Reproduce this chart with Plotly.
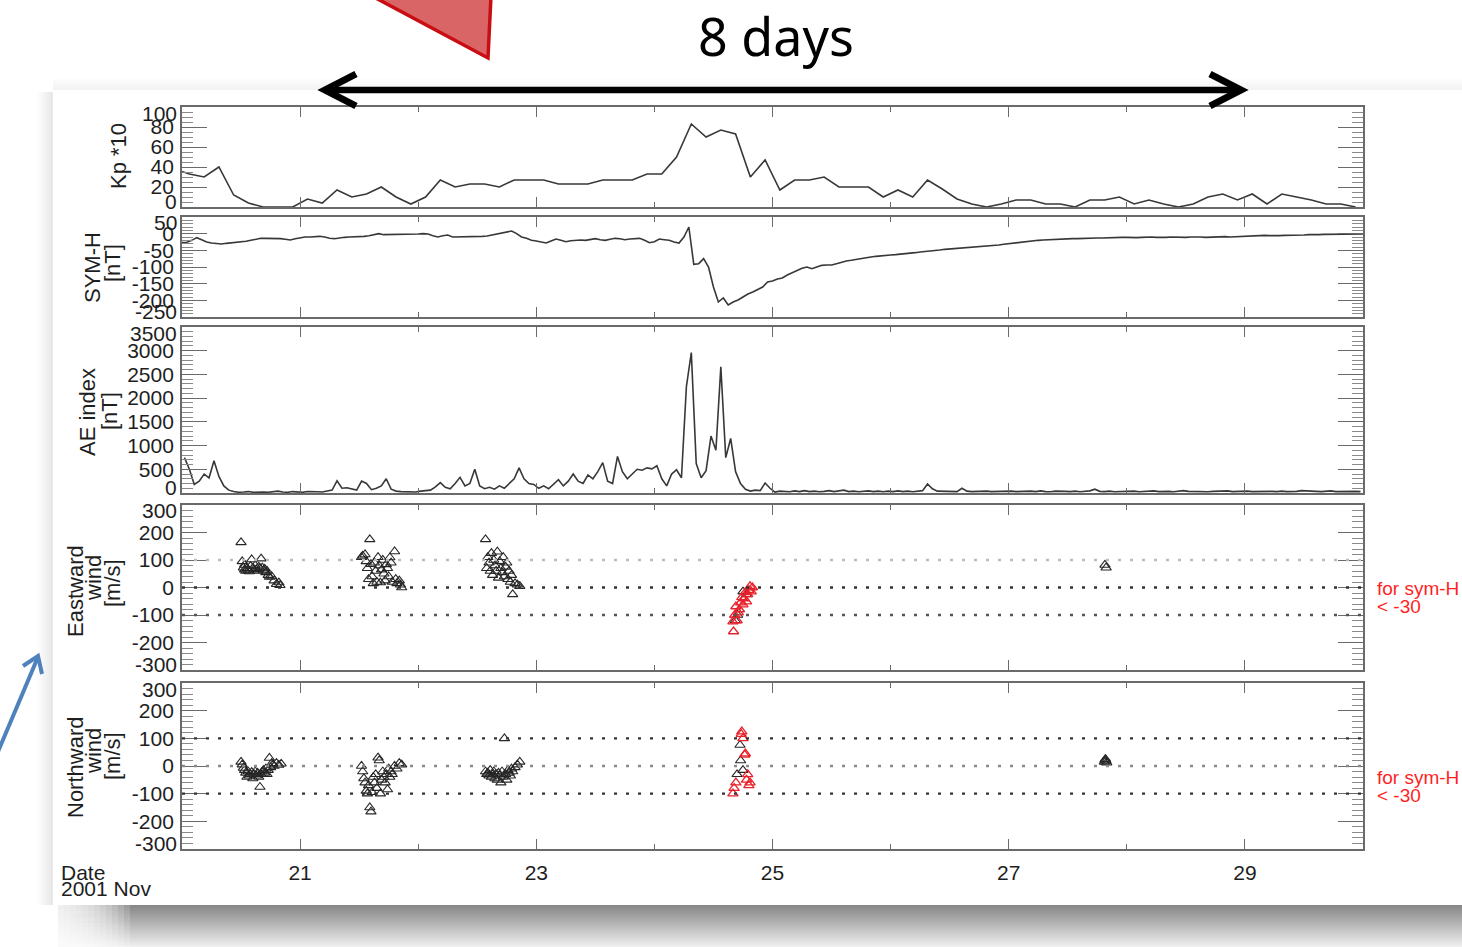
import numpy as np
import plotly.graph_objects as go

W, H = 1462, 947

# ---------------------------------------------------------------- data
# Kp*10, 3-hour intervals (first value belongs to the interval before Nov 20)
kp10 = [38, 33, 30, 40, 12, 4, 0, 0, 0, 8,
        4, 17, 10, 13, 20, 10, 3, 10, 27, 20,
        23, 23, 20, 27, 27, 27, 23, 23, 23, 27,
        27, 27, 33, 33, 50, 83, 70, 77, 73, 30,
        47, 17, 27, 27, 30, 20, 20, 20, 10, 17,
        10, 27, 18, 8, 3, 0, 3, 7, 7, 3,
        3, 0, 7, 7, 10, 3, 7, 3, 0, 3,
        10, 13, 7, 13, 3, 13, 10, 7, 3, 3,
        0]
kp_times = 20 + (np.arange(len(kp10)) - 0.5) / 8

# SYM-H [nT], hourly values from Nov 20 00 UT
symh_d20 = [-27, -26, -20, -12, -18, -25, -28, -30, -31, -29, -28, -26, -24, -23, -20, -16, -14, -14, -14, -14, -15, -17, -19, -15]
symh_d21 = [-12, -10, -10, -9, -8, -10, -14, -15, -12, -11, -10, -10, -9, -8, -6, -3, 0, -3, -3, -2, -1, -1, -1, -1]
symh_d22 = [-1, 0, -1, -6, -10, -6, -4, -10, -10, -10, -10, -10, -9, -8, -7, -4, -1, 2, 5, 8, 0, -10, -14, -20]
symh_d23 = [-22, -25, -28, -22, -16, -20, -24, -21, -19, -19, -20, -17, -15, -18, -20, -17, -14, -15, -18, -16, -14, -14, -20, -27]
symh_d24 = [-24, -16, -18, -20, -25, -28, -10, 20, -92, -90, -75, -100, -160, -205, -193, -214, -205, -199, -190, -181, -175, -168, -160, -145]
symh_d25 = [-142, -136, -133, -124, -117, -110, -104, -100, -105, -100, -95, -94, -94, -90, -85, -82, -80, -77, -74, -72, -70, -68, -66, -65]
symh_d26 = [-64, -63, -62, -61, -59, -57, -55, -54, -52, -50, -49, -47, -46, -45, -44, -43, -41, -40, -39, -38, -36, -35, -34, -32]
symh_d27 = [-30, -28, -26, -24, -22, -21, -20, -19, -18, -18, -17, -16, -16, -15, -15, -14, -14, -14, -13, -13, -12, -12, -12, -11]
symh_d28 = [-11, -12, -12, -11, -10, -10, -11, -12, -11, -10, -11, -12, -11, -10, -9, -10, -11, -10, -9, -8, -9, -10, -9, -8]
symh_d29 = [-8, -7, -6, -6, -5, -6, -7, -6, -5, -5, -6, -5, -4, -3, -4, -3, -2, -2, -1, 0, 0, -1, -1, 0, -1]
symh = (symh_d20 + symh_d21 + symh_d22 + symh_d23 + symh_d24 +
        symh_d25 + symh_d26 + symh_d27 + symh_d28 + symh_d29)
symh_times = 20 + np.arange(len(symh)) / 24

# AE index [nT], hourly means
ae_d20 = [745, 500, 180, 250, 400, 320, 680, 350, 150, 60, 30, 15, 20, 30, 15, 25, 20, 15, 25, 40, 20, 15, 30, 20]
ae_d21 = [15, 30, 20, 25, 20, 40, 60, 255, 100, 110, 80, 60, 250, 200, 70, 100, 150, 300, 80, 40, 30, 25, 30, 20]
ae_d22 = [40, 50, 60, 130, 220, 120, 90, 200, 330, 150, 200, 500, 150, 90, 120, 80, 150, 100, 200, 300, 530, 300, 200, 180]
ae_d23 = [100, 150, 90, 180, 280, 150, 250, 400, 250, 200, 380, 300, 450, 640, 250, 200, 770, 450, 300, 400, 500, 480, 530, 510]
ae_d24 = [575, 300, 150, 400, 490, 320, 2240, 2960, 620, 320, 470, 1200, 900, 2660, 745, 1150, 450, 200, 80, 40, 60, 50, 210, 100]
ae_d25 = [20, 40, 30, 25, 45, 30, 50, 30, 40, 25, 35, 50, 30, 40, 60, 30, 40, 25, 30, 45, 30, 40, 25, 40]
ae_d26 = [30, 45, 30, 40, 25, 35, 50, 190, 90, 40, 35, 30, 40, 30, 100, 40, 30, 35, 25, 40, 30, 35, 30, 40]
ae_d27 = [40, 30, 35, 25, 40, 30, 45, 30, 25, 40, 30, 35, 30, 40, 25, 30, 45, 80, 35, 30, 40, 25, 30, 35]
ae_d28 = [30, 40, 25, 35, 30, 45, 30, 40, 35, 25, 30, 50, 35, 30, 40, 30, 25, 35, 40, 30, 45, 30, 35, 30]
ae_d29 = [40, 30, 35, 30, 45, 35, 30, 40, 30, 25, 35, 50, 40, 30, 35, 30, 40, 45, 30, 35, 30, 40, 35, 30]
ae = ae_d20 + ae_d21 + ae_d22 + ae_d23 + ae_d24 + ae_d25 + ae_d26 + ae_d27 + ae_d28 + ae_d29
ae_times = 20 + (np.arange(len(ae)) + 0.5) / 24

# Eastward wind [m/s]
east_c1_days = [20.50, 20.51, 20.52, 20.53, 20.53, 20.54, 20.55, 20.56, 20.57, 20.58, 20.59, 20.60, 20.61, 20.62, 20.63, 20.64,
                20.65, 20.66, 20.67, 20.68, 20.69, 20.70, 20.71, 20.72, 20.73, 20.74, 20.76, 20.78, 20.80, 20.82, 20.83]
east_c1_vals = [164, 95, 72, 65, 82, 60, 70, 62, 58, 78, 102, 70, 65, 80, 66, 60,
                75, 70, 105, 72, 62, 68, 55, 60, 45, 38, 40, 25, 12, 18, 8]
east_c2_days = [21.52, 21.53, 21.55, 21.56, 21.57, 21.58, 21.59, 21.60, 21.61, 21.62, 21.63, 21.64, 21.65, 21.66, 21.67, 21.68,
                21.69, 21.70, 21.71, 21.72, 21.73, 21.74, 21.75, 21.76, 21.77, 21.78, 21.80, 21.81, 21.82, 21.84, 21.85, 21.86]
east_c2_vals = [110, 115, 120, 95, 70, 30, 175, 85, 40, 15, 90, 60, 20, 110, 80, 18,
                65, 100, 50, 25, 84, 70, 40, 109, 90, 20, 131, 30, 15, 25, 10, 0]
east_c3_days = [22.57, 22.58, 22.59, 22.60, 22.61, 22.62, 22.63, 22.64, 22.65, 22.66, 22.67, 22.68, 22.69, 22.70,
                22.71, 22.72, 22.73, 22.74, 22.75, 22.76, 22.77, 22.78, 22.79, 22.80, 22.82, 22.84, 22.86]
east_c3_vals = [175, 70, 110, 90, 60, 125, 45, 100, 80, 60, 130, 35, 95, 70,
                55, 110, 40, 75, 90, 30, 60, 20, 45, -25, 15, 10, 5]
east_c4_days = [24.685, 24.705, 24.75, 24.78]
east_c4_vals = [-120, -100, -15, -25]
east_c5_days = [27.815, 27.825]
east_c5_vals = [82, 72]
east_red_days = [24.665, 24.67, 24.68, 24.69, 24.70, 24.71, 24.72, 24.73, 24.74, 24.75, 24.76, 24.77, 24.78, 24.79, 24.80, 24.81, 24.82, 24.83]
east_red_vals = [-124, -160, -100, -69, -120, -91, -80, -55, -36, -62, -40, -18, -51, -25, -10, 4, -15, 0]

# Northward wind [m/s]
north_c1_days = [20.50, 20.51, 20.52, 20.53, 20.54, 20.55, 20.56, 20.57, 20.58, 20.59, 20.60, 20.61, 20.62, 20.63, 20.64, 20.65,
                 20.66, 20.67, 20.68, 20.69, 20.70, 20.71, 20.72, 20.73, 20.74, 20.75, 20.76, 20.77, 20.78, 20.80, 20.82, 20.84]
north_c1_vals = [15, 5, -7, -15, -25, -40, -20, -35, -30, -22, -45, -30, -20, -35, -25, -40,
                 -76, -30, -20, -15, -25, -10, -30, -15, 29, -5, 10, 5, 0, 10, 4, 8]
north_c2_days = [21.52, 21.53, 21.54, 21.55, 21.56, 21.57, 21.58, 21.59, 21.60, 21.61, 21.62, 21.63, 21.64, 21.65, 21.66, 21.67,
                 21.68, 21.69, 21.70, 21.71, 21.72, 21.73, 21.74, 21.75, 21.76, 21.77, 21.78, 21.80, 21.82, 21.84, 21.86]
north_c2_vals = [0, -20, -45, -60, -90, -100, -70, -150, -165, -95, -40, -60, -30, -80, 30, 20,
                 -100, -50, -20, -40, -60, -30, -85, -10, -40, -20, -30, 0, -10, 10, 5]
north_c3_days = [22.57, 22.58, 22.59, 22.60, 22.61, 22.62, 22.63, 22.64, 22.65, 22.66, 22.67, 22.68, 22.69, 22.70,
                 22.71, 22.72, 22.73, 22.74, 22.75, 22.76, 22.77, 22.78, 22.79, 22.80, 22.82, 22.84, 22.86]
north_c3_vals = [-20, -30, -25, -35, -15, -40, -30, -20, -45, -30, -50, -25, -35, -60,
                 -20, -40, 100, -30, -50, -15, -25, -35, -10, -20, -5, 5, 15]
north_c4_days = [24.70, 24.725, 24.73, 24.75]
north_c4_vals = [-30, 76, 20, -15]
north_c5_days = [27.81, 27.815, 27.82, 27.825, 27.83]
north_c5_vals = [15, 22, 25, 18, 12]
north_red_days = [24.665, 24.675, 24.69, 24.735, 24.74, 24.75, 24.765, 24.77, 24.78, 24.79, 24.80, 24.81]
north_red_vals = [-100, -80, -60, 115, 124, 100, 40, 45, -50, -30, -70, -60]

ref_levels = [100, 0, -100]
east_ref_colors = ['#bdbdbd', '#333333', '#555555']
north_ref_colors = ['#333333', '#8a8a8a', '#333333']

# tick values / labels
x_tick_vals = [21, 23, 25, 27, 29]
x_tick_labels = ['21', '23', '25', '27', '29']
kp_ticks = [0, 20, 40, 60, 80, 100]
symh_ticks = [-250, -200, -150, -100, -50, 0, 50]
ae_ticks = [0, 500, 1000, 1500, 2000, 2500, 3000, 3500]
wind_ticks = [-300, -200, -100, 0, 100, 200, 300]

# ---------------------------------------------------------------- helpers
def px(x):
    return x / W


def py(y):
    return 1 - y / H


FONT = "Liberation Sans, Arial, sans-serif"
TXT = '#1e1e1e'
LINE = '#383838'
BLACK_M = '#262626'
RED_M = '#e8222a'

fig = go.Figure()

fig.add_trace(go.Scatter(x=kp_times, y=kp10, mode='lines', line=dict(color=LINE, width=1.6),
                         xaxis='x', yaxis='y'))
fig.add_trace(go.Scatter(x=symh_times, y=symh, mode='lines', line=dict(color=LINE, width=1.6),
                         xaxis='x2', yaxis='y2'))
fig.add_trace(go.Scatter(x=ae_times, y=ae, mode='lines', line=dict(color=LINE, width=1.6),
                         xaxis='x3', yaxis='y3'))

east_black_days = east_c1_days + east_c2_days + east_c3_days + east_c4_days + east_c5_days
east_black_vals = east_c1_vals + east_c2_vals + east_c3_vals + east_c4_vals + east_c5_vals
north_black_days = north_c1_days + north_c2_days + north_c3_days + north_c4_days + north_c5_days
north_black_vals = north_c1_vals + north_c2_vals + north_c3_vals + north_c4_vals + north_c5_vals

mk = dict(symbol='triangle-up-open', size=9)
fig.add_trace(go.Scatter(x=east_black_days, y=east_black_vals, mode='markers',
                         marker=dict(**mk, color=BLACK_M, line=dict(width=1.1)), xaxis='x4', yaxis='y4'))
fig.add_trace(go.Scatter(x=east_red_days, y=east_red_vals, mode='markers',
                         marker=dict(**mk, color=RED_M, line=dict(width=1.3)), xaxis='x4', yaxis='y4'))
fig.add_trace(go.Scatter(x=north_black_days, y=north_black_vals, mode='markers',
                         marker=dict(**mk, color=BLACK_M, line=dict(width=1.1)), xaxis='x5', yaxis='y5'))
fig.add_trace(go.Scatter(x=north_red_days, y=north_red_vals, mode='markers',
                         marker=dict(**mk, color=RED_M, line=dict(width=1.3)), xaxis='x5', yaxis='y5'))

panels = [
    dict(top=107, bot=207, rng=[0, 100], ticks=kp_ticks, minor=5),
    dict(top=217, bot=317, rng=[-250, 50], ticks=symh_ticks, minor=10),
    dict(top=327, bot=493, rng=[0, 3500], ticks=ae_ticks, minor=100),
    dict(top=505, bot=670, rng=[-300, 300], ticks=wind_ticks, minor=20),
    dict(top=683, bot=849, rng=[-300, 300], ticks=wind_ticks, minor=20),
]

layout = dict(
    width=W, height=H, autosize=False,
    margin=dict(l=0, r=0, t=0, b=0),
    paper_bgcolor='white', plot_bgcolor='rgba(0,0,0,0)',
    showlegend=False,
    font=dict(family=FONT, size=21, color=TXT),
)
AX = '#6a6a6a'
annotations = []
for i, p in enumerate(panels, start=1):
    sx = '' if i == 1 else str(i)
    layout['xaxis' + sx] = dict(
        domain=[px(182), px(1363)], range=[20, 30], anchor='y' + sx,
        tickmode='array', tickvals=x_tick_vals, ticktext=x_tick_labels,
        ticks='inside', ticklen=10, tickwidth=1.3, tickcolor=AX,
        showline=True, linecolor=AX, linewidth=1.8, mirror='ticks',
        showgrid=False, zeroline=False, showticklabels=(i == 5),
        ticklabelstandoff=4, tickfont=dict(size=21, color=TXT),
        minor=dict(ticks='inside', ticklen=5, dtick=1, tick0=20, tickcolor=AX,
                   tickwidth=1, showgrid=False),
        fixedrange=True,
    )
    tv = p['ticks']
    # end labels are drawn as annotations nudged inward (as in the original IDL plot)
    tt = [''] + [str(v) for v in tv[1:-1]] + ['']
    layout['yaxis' + sx] = dict(
        domain=[py(p['bot']), py(p['top'])], range=p['rng'], anchor='x' + sx,
        tickmode='array', tickvals=tv, ticktext=tt,
        ticks='inside', ticklen=25, tickwidth=1.3, tickcolor=AX,
        showline=True, linecolor=AX, linewidth=1.8, mirror='ticks',
        showgrid=False, zeroline=False,
        ticklabelstandoff=2, tickfont=dict(size=21, color=TXT),
        minor=dict(ticks='inside', ticklen=11, dtick=p['minor'], tick0=0,
                   tickcolor='#8a8a8a', tickwidth=1, showgrid=False),
        fixedrange=True,
    )
    for v, shift in ((tv[0], 6), (tv[-1], -6)):
        annotations.append(dict(text=str(v), xref='paper', yref='y' + sx, x=px(179), y=v,
                                xanchor='right', yanchor='middle', yshift=shift, showarrow=False,
                                font=dict(size=21, color=TXT, family=FONT)))

shapes = []


def grey(v):
    v = int(max(0, min(255, v)))
    return f'rgb({v},{v},{v})'


# drop shadow below the card (overlapping bands -> smooth gradient)
n = 21
for k in range(n):
    v = 136 + (238 - 136) * k / (n - 1)
    shapes.append(dict(type='rect', xref='paper', yref='paper', x0=px(58), x1=1,
                       y0=py(905 + k * 2), y1=py(950),
                       fillcolor=grey(v), line_width=0, layer='below'))
for j in range(14):
    shapes.append(dict(type='rect', xref='paper', yref='paper', x0=px(40), x1=px(52 + j * 6),
                       y0=py(905), y1=py(950), fillcolor='white', opacity=0.16,
                       line_width=0, layer='below'))
# faint shadow left of and above the card
for j in range(8):
    shapes.append(dict(type='rect', xref='paper', yref='paper', x0=px(37 + j * 2), x1=px(53),
                       y0=py(92), y1=py(905), fillcolor=grey(253 - j * 3), line_width=0, layer='below'))
for j in range(6):
    shapes.append(dict(type='rect', xref='paper', yref='paper', x0=px(53), x1=1,
                       y0=py(78 + j * 2), y1=py(90), fillcolor=grey(253 - j * 2),
                       line_width=0, layer='below'))
# the white card
shapes.append(dict(type='rect', xref='paper', yref='paper', x0=px(53), x1=1, y0=py(90), y1=py(905),
                   fillcolor='white', line_width=0, layer='below'))

# dotted reference levels in the wind panels
for lvl, c in zip(ref_levels, east_ref_colors):
    shapes.append(dict(type='line', xref='x4 domain', yref='y4', x0=0, x1=1, y0=lvl, y1=lvl,
                       line=dict(color=c, width=2.4, dash='3px,9px'), layer='above'))
for lvl, c in zip(ref_levels, north_ref_colors):
    shapes.append(dict(type='line', xref='x5 domain', yref='y5', x0=0, x1=1, y0=lvl, y1=lvl,
                       line=dict(color=c, width=2.4, dash='3px,9px'), layer='above'))


def path(points, closed=False):
    s = 'M ' + ' L '.join(f'{px(x):.5f},{py(y):.5f}' for x, y in points)
    return s + (' Z' if closed else '')


# red triangle at top
shapes.append(dict(type='path', xref='paper', yref='paper',
                   path=path([(372, -4), (488, 58), (491, -4)], closed=True),
                   fillcolor='#d96567', line=dict(color='#c90d12', width=3.5), layer='above'))
# double-headed "8 days" arrow
shapes.append(dict(type='line', xref='paper', yref='paper', x0=px(326), x1=px(1240), y0=py(90), y1=py(90),
                   line=dict(color='black', width=6.5), layer='above'))
shapes.append(dict(type='path', xref='paper', yref='paper',
                   path=path([(356, 74), (325, 90), (356, 106)]),
                   line=dict(color='black', width=7), layer='above'))
shapes.append(dict(type='path', xref='paper', yref='paper',
                   path=path([(1210, 74), (1241, 90), (1210, 106)]),
                   line=dict(color='black', width=7), layer='above'))
# blue arrow at left
shapes.append(dict(type='line', xref='paper', yref='paper', x0=px(-3), x1=px(38), y0=py(754), y1=py(657),
                   line=dict(color='#4f81bd', width=4), layer='above'))
shapes.append(dict(type='path', xref='paper', yref='paper',
                   path=path([(23, 666), (38, 656), (42, 674)]),
                   line=dict(color='#4f81bd', width=4), layer='above'))
layout['shapes'] = shapes


def ann(text, x, y, size=21, color=TXT, angle=0, xanchor='center', family=FONT):
    return dict(text=text, x=px(x), y=py(y), xref='paper', yref='paper', showarrow=False,
                textangle=angle, xanchor=xanchor, yanchor='middle',
                font=dict(size=size, color=color, family=family))


annotations += [
    ann('8 days', 776, 36, size=52, color='black', family='Noto Sans, sans-serif'),
    ann('Kp *10', 118, 156, size=22, angle=-90),
    ann('SYM-H', 92, 268, size=22, angle=-90),
    ann('[nT]', 112, 263, size=22, angle=-90),
    ann('AE index', 88, 412, size=22, angle=-90),
    ann('[nT]', 109, 411, size=22, angle=-90),
    ann('Eastward', 75, 591, size=22, angle=-90),
    ann('wind', 93, 578, size=22, angle=-90),
    ann('[m/s]', 112, 583, size=22, angle=-90),
    ann('Northward', 75, 768, size=22, angle=-90),
    ann('wind', 93, 751, size=22, angle=-90),
    ann('[m/s]', 112, 756, size=22, angle=-90),
    ann('Date', 59, 872, xanchor='left'),
    ann('2001 Nov', 59, 888, xanchor='left'),
    ann('for sym-H', 1375, 588, size=19, color='#ff1f1f', xanchor='left'),
    ann('< -30', 1375, 606, size=19, color='#ff1f1f', xanchor='left'),
    ann('for sym-H', 1375, 777, size=19, color='#ff1f1f', xanchor='left'),
    ann('< -30', 1375, 795, size=19, color='#ff1f1f', xanchor='left'),
]
layout['annotations'] = annotations

fig.update_layout(**layout)
fig.write_html("out.html",
               post_script="document.body.style.margin='0px';document.body.style.overflow='hidden';")
